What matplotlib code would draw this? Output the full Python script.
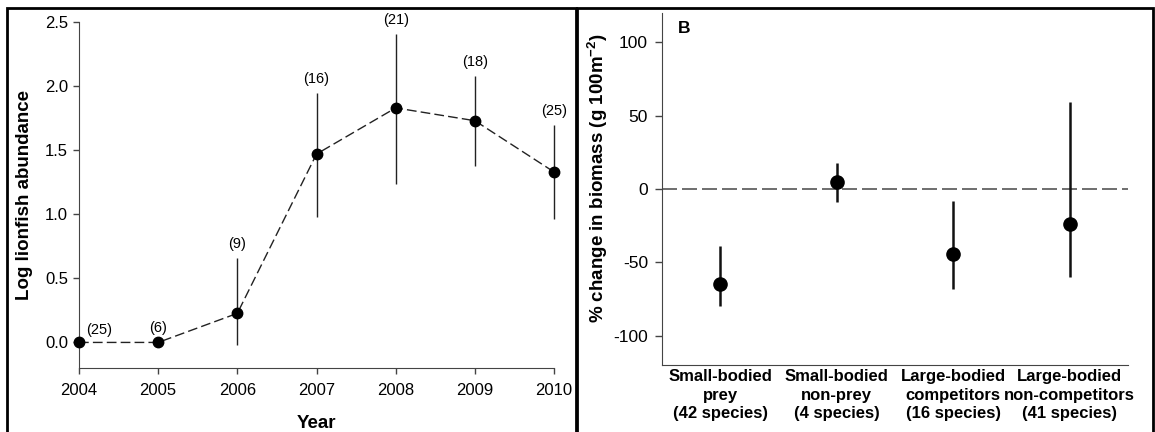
import matplotlib
matplotlib.use('Agg')
import matplotlib.pyplot as plt
from matplotlib.patches import Rectangle

plt.rcParams['font.family'] = ['Liberation Sans', 'DejaVu Sans']
plt.rcParams['mathtext.fontset'] = 'custom'
plt.rcParams['mathtext.rm'] = 'Liberation Sans'
plt.rcParams['mathtext.bf'] = 'Liberation Sans:bold'
plt.rcParams['axes.unicode_minus'] = False

# Panel A: log lionfish abundance per year (mean, lower/upper bar ends, n)
years = [2004, 2005, 2006, 2007, 2008, 2009, 2010]
abundance = [0.0, 0.0, 0.227, 1.47, 1.83, 1.73, 1.33]
abund_low = [0.0, 0.0, -0.02, 0.98, 1.24, 1.38, 0.96]
abund_high = [0.0, 0.0, 0.66, 1.95, 2.41, 2.08, 1.70]
sample_n = ['(25)', '(6)', '(9)', '(16)', '(21)', '(18)', '(25)']

# Panel B: % change in biomass by prey group
groups = ['Small-bodied\nprey\n(42 species)',
          'Small-bodied\nnon-prey\n(4 species)',
          'Large-bodied\ncompetitors\n(16 species)',
          'Large-bodied\nnon-competitors\n(41 species)']
change = [-64.6, 4.8, -44.0, -24.0]
change_low = [-79.6, -8.8, -68.0, -60.0]
change_high = [-38.8, 17.7, -8.0, 59.0]

spine_col = '#444444'

fig = plt.figure(figsize=(11.55, 4.32), dpi=100)

# ---- Panel A ----
ax1 = fig.add_axes([0.0684, 0.148, 0.4113, 0.801])
err1 = [[m - lo for m, lo in zip(abundance, abund_low)],
        [hi - m for m, hi in zip(abundance, abund_high)]]
eb = ax1.errorbar(years, abundance, yerr=err1, fmt='none', ecolor='#222222',
                  elinewidth=1.0, capsize=0)
for coll in eb[2]:
    coll.set_clip_on(False)
ax1.plot(years, abundance, color='#222222', linestyle=(0, (7, 3)), linewidth=1.0,
         marker='o', markersize=7.5, markerfacecolor='black', markeredgecolor='black',
         clip_on=False, zorder=4)

for i, (x, hi, lab) in enumerate(zip(years, abund_high, sample_n)):
    if i == 0:
        ax1.annotate(lab, (x, hi), xytext=(5, 4), textcoords='offset points',
                     ha='left', va='bottom', fontsize=10.5)
    else:
        ax1.annotate(lab, (x, hi), xytext=(0, 5), textcoords='offset points',
                     ha='center', va='bottom', fontsize=10.5)

ax1.set_xlim(2004, 2010)
ax1.set_ylim(-0.2, 2.5)
ax1.set_xticks(years)
ax1.set_yticks([0.0, 0.5, 1.0, 1.5, 2.0, 2.5])
ax1.set_yticklabels(['0.0', '0.5', '1.0', '1.5', '2.0', '2.5'])
ax1.spines['top'].set_visible(False)
ax1.spines['right'].set_visible(False)
for s in ['left', 'bottom']:
    ax1.spines[s].set_color(spine_col)
ax1.tick_params(axis='both', direction='out', length=4, width=1, color=spine_col,
                labelsize=12)
ax1.tick_params(axis='x', pad=7)
ax1.tick_params(axis='y', pad=4)
ax1.set_xlabel('Year', fontsize=13.5, fontweight='bold')
ax1.set_ylabel('Log lionfish abundance', fontsize=13.5, fontweight='bold')
ax1.xaxis.set_label_coords(0.5, -0.135)
ax1.yaxis.set_label_coords(-0.097, 0.5)

# ---- Panel B ----
ax2 = fig.add_axes([0.573, 0.155, 0.4036, 0.815])
xs = list(range(len(groups)))
err2 = [[m - lo for m, lo in zip(change, change_low)],
        [hi - m for m, hi in zip(change, change_high)]]
ax2.axhline(0, color='#555555', linestyle=(0, (9, 3)), linewidth=1.2, zorder=1)
ax2.errorbar(xs, change, yerr=err2, fmt='o', color='black', ecolor='#111111',
             elinewidth=1.8, capsize=0, markersize=9.5, zorder=3)

ax2.set_xlim(-0.5, 3.5)
ax2.set_ylim(-120, 120)
ax2.set_yticks([-100, -50, 0, 50, 100])
ax2.set_xticks(xs)
ax2.set_xticklabels(groups, fontsize=12, fontweight='bold', linespacing=1.3)
ax2.spines['top'].set_visible(False)
ax2.spines['right'].set_visible(False)
for s in ['left', 'bottom']:
    ax2.spines[s].set_color(spine_col)
ax2.tick_params(axis='y', direction='out', length=5, width=1, color=spine_col,
                labelsize=12.5, pad=5)
ax2.tick_params(axis='x', length=0, pad=3)
ax2.set_ylabel(r'% change in biomass (g 100m$^{\mathbf{-2}}$)', fontsize=13.5,
               fontweight='bold')
ax2.yaxis.set_label_coords(-0.112, 0.53)
ax2.text(0.035, 0.978, 'B', transform=ax2.transAxes, fontsize=12.5,
         fontweight='bold', va='top', ha='left')

# panel frames (cropped at the bottom in the original)
fig.add_artist(Rectangle((7 / 1155, -0.05), (576 - 7) / 1155, 1.05 - 8 / 432,
                         transform=fig.transFigure, fill=False,
                         edgecolor='black', linewidth=2))
fig.add_artist(Rectangle((577 / 1155, -0.05), (1153 - 577) / 1155, 1.05 - 8 / 432,
                         transform=fig.transFigure, fill=False,
                         edgecolor='black', linewidth=2))

fig.savefig('out.png', dpi=100)
